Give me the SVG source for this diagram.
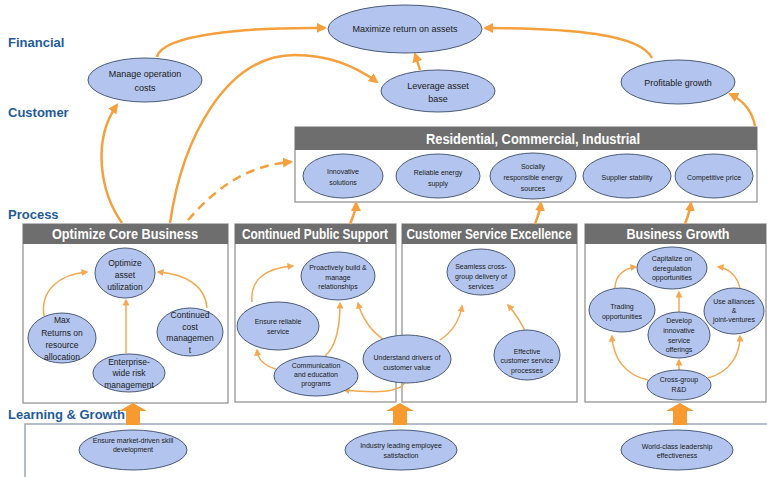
<svg xmlns="http://www.w3.org/2000/svg" width="767" height="477" viewBox="0 0 767 477">
<defs>
<style>
.lbl{font-family:"Liberation Sans",Arial,sans-serif;font-weight:bold;font-size:13px;fill:#1f5b98}
.hdr{fill:#6e6e6e}
.hdt{font-family:"Liberation Sans",Arial,sans-serif;font-weight:bold;font-size:14px;fill:#ffffff;text-anchor:middle;dominant-baseline:central}
.box{fill:#ffffff;stroke:#8c8c8c;stroke-width:1.2}
.el{fill:#b3c5ee;stroke:#4a5a78;stroke-width:1}
.t{font-family:"Liberation Sans",Arial,sans-serif;fill:#1a1a1a;text-anchor:middle;dominant-baseline:central}
.t9{font-size:9px}
.t8{font-size:8.5px}
.t7{font-size:7px}
.big{fill:none;stroke:#f5a03c;stroke-width:2.5}
.sm{fill:none;stroke:#f5a850;stroke-width:1.5}
.blk{fill:#f79a30}
</style>
<marker id="ab" viewBox="0 0 10 10" refX="8" refY="5" markerWidth="10" markerHeight="10" markerUnits="userSpaceOnUse" orient="auto">
<path d="M0,0 L10,5 L0,10 z" fill="#f5a03c"/>
</marker>
<marker id="as" viewBox="0 0 10 10" refX="8" refY="5" markerWidth="7" markerHeight="7" markerUnits="userSpaceOnUse" orient="auto">
<path d="M0,0 L10,5 L0,10 z" fill="#f5a850"/>
</marker>
</defs>

<g id="layer-labels">
<text class="lbl" x="8" y="47">Financial</text>
<text class="lbl" x="8" y="117">Customer</text>
<text class="lbl" x="8" y="219">Process</text>
<text class="lbl" x="8" y="419">Learning &amp; Growth</text>
</g>

<g id="learning-box">
<rect x="25" y="424" width="760" height="60" fill="#ffffff" stroke="#9aa7b6" stroke-width="1.5"/>
</g>

<g id="residential-box">
<rect class="box" x="295" y="127" width="462" height="75"/>
<rect class="hdr" x="295" y="127" width="462" height="23"/>
<text class="hdt" x="533" y="139" textLength="214" lengthAdjust="spacingAndGlyphs">Residential, Commercial, Industrial</text>
</g>

<g id="ocb-box">
<rect class="box" x="23" y="224" width="205" height="179"/>
<rect class="hdr" x="23" y="224" width="205" height="20"/>
<text class="hdt" x="125" y="234" textLength="146" lengthAdjust="spacingAndGlyphs">Optimize Core Business</text>
</g>
<g id="cps-box">
<rect class="box" x="235" y="224" width="161" height="178"/>
<rect class="hdr" x="235" y="224" width="161" height="20"/>
<text class="hdt" x="315" y="234" textLength="146" lengthAdjust="spacingAndGlyphs">Continued Public Support</text>
</g>
<g id="cse-box">
<rect class="box" x="402" y="224" width="175" height="178"/>
<rect class="hdr" x="402" y="224" width="175" height="20"/>
<text class="hdt" x="489" y="234" textLength="165" lengthAdjust="spacingAndGlyphs">Customer Service Excellence</text>
</g>
<g id="bg-box">
<rect class="box" x="585" y="224" width="181" height="178"/>
<rect class="hdr" x="585" y="224" width="181" height="20"/>
<text class="hdt" x="678" y="234" textLength="103" lengthAdjust="spacingAndGlyphs">Business Growth</text>
</g>

<g id="connectors">
<path class="big" d="M157,57 C162,34 250,27 325,28" marker-end="url(#ab)"/>
<path class="big" d="M652,58 C640,34 570,28 485,28" marker-end="url(#ab)"/>
<path class="big" d="M420,70 L415,54" marker-end="url(#ab)"/>
<path class="big" d="M170,223 C182,140 225,55 295,55 C330,55 358,68 377,82" marker-end="url(#ab)"/>
<path class="big" d="M122,223 C100,192 92,140 117,105" marker-end="url(#ab)"/>
<path class="big" d="M188,220 C214,190 246,165 291,162" stroke-dasharray="9,6" marker-end="url(#ab)"/>
<path class="big" d="M755,126 C752,110 742,100 730,94" marker-end="url(#ab)"/>
<path class="big" d="M350,224 C353,216 356,211 356,203" marker-end="url(#ab)"/>
<path class="big" d="M535,224 C538,216 540,211 541,203" marker-end="url(#ab)"/>
<path class="big" d="M685,224 C688,216 690,211 691,203" marker-end="url(#ab)"/>

<path class="sm" d="M44,316 C40,290 60,274 87,272" marker-end="url(#as)"/>
<path class="sm" d="M126,353 L126,300" marker-end="url(#as)"/>
<path class="sm" d="M207,308 C205,285 185,274 158,272" marker-end="url(#as)"/>

<path class="sm" d="M252,302 C250,280 265,268 293,266" marker-end="url(#as)"/>
<path class="sm" d="M276,369 C265,366 258,360 257,350" marker-end="url(#as)"/>
<path class="sm" d="M325,356 C338,345 340,320 340,303" marker-end="url(#as)"/>
<path class="sm" d="M384,340 C370,330 362,318 358,303" marker-end="url(#as)"/>
<path class="sm" d="M405,382 C400,393 375,393 344,390" marker-end="url(#as)"/>

<path class="sm" d="M440,340 C455,330 460,318 462,306" marker-end="url(#as)"/>
<path class="sm" d="M525,331 C520,320 514,312 508,305" marker-end="url(#as)"/>

<path class="sm" d="M615,288 C615,275 625,268 636,267" marker-end="url(#as)"/>
<path class="sm" d="M740,289 C738,276 728,268 718,267" marker-end="url(#as)"/>
<path class="sm" d="M679,312 L679,292" marker-end="url(#as)"/>
<path class="sm" d="M679,370 L679,360" marker-end="url(#as)"/>
<path class="sm" d="M648,380 C625,375 613,358 612,336" marker-end="url(#as)"/>
<path class="sm" d="M708,378 C730,372 740,355 740,336" marker-end="url(#as)"/>

<polygon class="blk" points="133,403 147,411 140,411 140,425 126,425 126,411 119,411"/>
<polygon class="blk" points="400,403 414,411 407,411 407,425 393,425 393,411 386,411"/>
<polygon class="blk" points="680,403 694,411 687,411 687,425 673,425 673,411 666,411"/>
</g>

<g id="maximize-return">
<ellipse class="el" cx="405" cy="29" rx="77" ry="24"/>
<text class="t t9" x="405" y="29">Maximize return on assets</text>
</g>
<g id="manage-costs">
<ellipse class="el" cx="145" cy="80" rx="57" ry="22"/>
<text class="t t9" x="145" y="74">Manage operation</text>
<text class="t t9" x="145" y="88">costs</text>
</g>
<g id="leverage-asset">
<ellipse class="el" cx="438" cy="91" rx="57" ry="21"/>
<text class="t t9" x="438" y="86">Leverage asset</text>
<text class="t t9" x="438" y="99">base</text>
</g>
<g id="profitable-growth">
<ellipse class="el" cx="678" cy="82" rx="57" ry="22"/>
<text class="t t9" x="678" y="83">Profitable growth</text>
</g>

<g id="innovative-solutions">
<ellipse class="el" cx="343" cy="176" rx="40" ry="22"/>
<text class="t t7" x="343" y="171">Innovative</text>
<text class="t t7" x="343" y="182">solutions</text>
</g>
<g id="reliable-energy">
<ellipse class="el" cx="438" cy="176" rx="42" ry="22"/>
<text class="t t7" x="438" y="172">Reliable energy</text>
<text class="t t7" x="438" y="183">supply</text>
</g>
<g id="socially-responsible">
<ellipse class="el" cx="533" cy="176" rx="43" ry="23"/>
<text class="t t7" x="533" y="166">Socially</text>
<text class="t t7" x="533" y="177">responsible energy</text>
<text class="t t7" x="533" y="188">sources</text>
</g>
<g id="supplier-stability">
<ellipse class="el" cx="627" cy="176" rx="44" ry="22"/>
<text class="t t7" x="627" y="177">Supplier stability</text>
</g>
<g id="competitive-price">
<ellipse class="el" cx="714" cy="176" rx="39" ry="22"/>
<text class="t t7" x="714" y="177">Competitive price</text>
</g>

<g id="optimize-asset">
<ellipse class="el" cx="125" cy="273" rx="30" ry="25"/>
<text class="t t8" x="125" y="263">Optimize</text>
<text class="t t8" x="125" y="275">asset</text>
<text class="t t8" x="125" y="287">utilization</text>
</g>
<g id="max-returns">
<ellipse class="el" cx="62" cy="338" rx="34" ry="25"/>
<text class="t t8" x="62" y="320">Max</text>
<text class="t t8" x="62" y="333">Returns on</text>
<text class="t t8" x="62" y="345">resource</text>
<text class="t t8" x="62" y="357">allocation</text>
</g>
<g id="continued-cost">
<ellipse class="el" cx="190" cy="332" rx="33" ry="24"/>
<text class="t t8" x="190" y="315">Continued</text>
<text class="t t8" x="190" y="327">cost</text>
<text class="t t8" x="190" y="338">managemen</text>
<text class="t t8" x="190" y="350">t</text>
</g>
<g id="enterprise-risk">
<ellipse class="el" cx="129" cy="373" rx="36" ry="19"/>
<text class="t t8" x="129" y="362">Enterprise-</text>
<text class="t t8" x="129" y="373">wide risk</text>
<text class="t t8" x="129" y="385">management</text>
</g>

<g id="proactively-build">
<ellipse class="el" cx="338" cy="276" rx="37" ry="24"/>
<text class="t t7" x="338" y="267">Proactively build &amp;</text>
<text class="t t7" x="338" y="277">manage</text>
<text class="t t7" x="338" y="286">relationships</text>
</g>
<g id="ensure-reliable">
<ellipse class="el" cx="278" cy="326" rx="41" ry="24"/>
<text class="t t7" x="278" y="321">Ensure reliable</text>
<text class="t t7" x="278" y="331">service</text>
</g>
<g id="communication">
<ellipse class="el" cx="316" cy="376" rx="42" ry="20"/>
<text class="t t7" x="316" y="365">Communication</text>
<text class="t t7" x="316" y="374">and education</text>
<text class="t t7" x="316" y="383">programs</text>
</g>
<g id="understand-drivers">
<ellipse class="el" cx="407" cy="359" rx="44" ry="24"/>
<text class="t t7" x="407" y="357">Understand drivers of</text>
<text class="t t7" x="407" y="367">customer value</text>
</g>

<g id="seamless-delivery">
<ellipse class="el" cx="481" cy="272" rx="34" ry="23"/>
<text class="t t7" x="481" y="266">Seamless cross-</text>
<text class="t t7" x="481" y="276">group delivery of</text>
<text class="t t7" x="481" y="286">services</text>
</g>
<g id="effective-service">
<ellipse class="el" cx="527" cy="355" rx="33" ry="25"/>
<text class="t t7" x="527" y="351">Effective</text>
<text class="t t7" x="527" y="360">customer service</text>
<text class="t t7" x="527" y="370">processes</text>
</g>

<g id="capitalize">
<ellipse class="el" cx="672" cy="268" rx="35" ry="21"/>
<text class="t t7" x="672" y="258">Capitalize on</text>
<text class="t t7" x="672" y="268">deregulation</text>
<text class="t t7" x="672" y="277">opportunities</text>
</g>
<g id="trading">
<ellipse class="el" cx="622" cy="310" rx="33" ry="22"/>
<text class="t t7" x="622" y="306">Trading</text>
<text class="t t7" x="622" y="316">opportunities</text>
</g>
<g id="alliances">
<ellipse class="el" cx="734" cy="311" rx="30" ry="23"/>
<text class="t t7" x="734" y="301">Use alliances</text>
<text class="t t7" x="734" y="310">&amp;</text>
<text class="t t7" x="734" y="319">joint-ventures</text>
</g>
<g id="develop-innovative">
<ellipse class="el" cx="679" cy="335" rx="31" ry="23"/>
<text class="t t7" x="679" y="320">Develop</text>
<text class="t t7" x="679" y="330">innovative</text>
<text class="t t7" x="679" y="340">service</text>
<text class="t t7" x="679" y="349">offerings</text>
</g>
<g id="cross-group">
<ellipse class="el" cx="679" cy="385" rx="32" ry="15"/>
<text class="t t7" x="679" y="379">Cross-group</text>
<text class="t t7" x="679" y="389">R&amp;D</text>
</g>

<g id="skill-development">
<ellipse class="el" cx="133" cy="450" rx="54" ry="20"/>
<text class="t t7" x="133" y="440">Ensure market-driven skill</text>
<text class="t t7" x="133" y="449">development</text>
</g>
<g id="employee-satisfaction">
<ellipse class="el" cx="401" cy="450" rx="56" ry="20"/>
<text class="t t7" x="401" y="445">Industry leading employee</text>
<text class="t t7" x="401" y="455">satisfaction</text>
</g>
<g id="leadership">
<ellipse class="el" cx="677" cy="450" rx="56" ry="20"/>
<text class="t t7" x="677" y="446">World-class leadership</text>
<text class="t t7" x="677" y="455">effectiveness</text>
</g>
</svg>
